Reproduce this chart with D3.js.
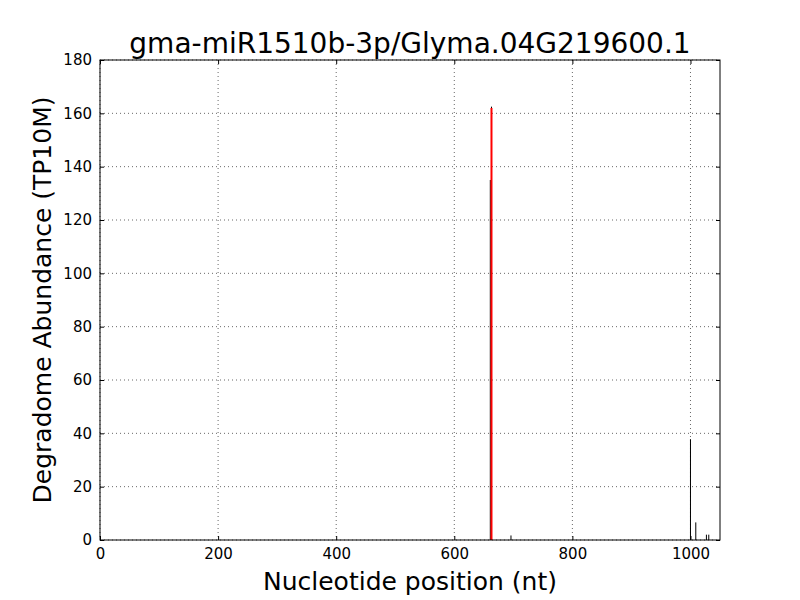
<!DOCTYPE html>
<html>
<head>
<meta charset="utf-8">
<script src="https://cdn.jsdelivr.net/npm/d3@7"></script>
<style>
  body { margin: 0; background: #fff; }
  svg { display: block; font-family: "DejaVu Sans", sans-serif; }
</style>
</head>
<body>
<div id="chart"></div>
<script>
// Degradome peaks
const positions = [661, 663, 696, 1000, 1009, 1027, 1031];
const abundance = [135, 162.5, 1.7, 37.8, 6.6, 2, 2];
// The cleavage site peak, drawn in red
const sitePos = 663;
const siteValue = 162;

const xTicks = [0, 200, 400, 600, 800, 1000];
const yTicks = [0, 20, 40, 60, 80, 100, 120, 140, 160, 180];

const titleText = "gma-miR1510b-3p/Glyma.04G219600.1";
const xLabel = "Nucleotide position (nt)";
const yLabel = "Degradome Abundance (TP10M)";

const margin = { top: 60, right: 80, bottom: 60, left: 100 };
const width = 800 - margin.left - margin.right;
const height = 600 - margin.top - margin.bottom;

const svg = d3.select("#chart")
  .append("svg")
  .attr("width", 800)
  .attr("height", 600);

const g = svg.append("g")
  .attr("transform", `translate(${margin.left},${margin.top})`);

const x = d3.scaleLinear().domain([0, 1050]).range([0, width]);
const y = d3.scaleLinear().domain([0, 180]).range([height, 0]);

// dotted grid
g.append("g")
  .selectAll("line")
  .data(xTicks)
  .join("line")
  .attr("x1", d => x(d)).attr("x2", d => x(d))
  .attr("y1", 0).attr("y2", height)
  .attr("stroke", "#000").attr("stroke-width", 0.6)
  .attr("stroke-dasharray", "1,3");

g.append("g")
  .selectAll("line")
  .data(yTicks)
  .join("line")
  .attr("x1", 0).attr("x2", width)
  .attr("y1", d => y(d)).attr("y2", d => y(d))
  .attr("stroke", "#000").attr("stroke-width", 0.6)
  .attr("stroke-dasharray", "1,3");

// peaks as vertical lines
g.append("g")
  .selectAll("line")
  .data(positions.map((p, i) => ({ p, v: abundance[i] })))
  .join("line")
  .attr("x1", d => x(d.p)).attr("x2", d => x(d.p))
  .attr("y1", y(0)).attr("y2", d => y(d.v))
  .attr("stroke", "#000").attr("stroke-width", 1);

g.append("line")
  .attr("x1", x(sitePos)).attr("x2", x(sitePos))
  .attr("y1", y(0)).attr("y2", y(siteValue))
  .attr("stroke", "#ff0000").attr("stroke-width", 2);

// axes, ticks pointing inward like matplotlib classic
const tickFont = "15px";
const axBottom = g.append("g")
  .attr("transform", `translate(0,${height})`)
  .call(d3.axisBottom(x).tickValues(xTicks).tickFormat(d3.format("d"))
    .tickSizeInner(-4).tickSizeOuter(0).tickPadding(8));
const axTop = g.append("g")
  .call(d3.axisTop(x).tickValues(xTicks).tickSizeInner(-4).tickSizeOuter(0).tickFormat(""));
const axLeft = g.append("g")
  .call(d3.axisLeft(y).tickValues(yTicks).tickFormat(d3.format("d"))
    .tickSizeInner(-4).tickSizeOuter(0).tickPadding(8));
const axRight = g.append("g")
  .attr("transform", `translate(${width},0)`)
  .call(d3.axisRight(y).tickValues(yTicks).tickSizeInner(-4).tickSizeOuter(0).tickFormat(""));

[axBottom, axTop, axLeft, axRight].forEach(a => {
  a.select(".domain").remove();
  a.selectAll("line").attr("stroke", "#000");
  a.selectAll("text").style("font-size", tickFont).attr("fill", "#000")
    .style("font-family", "DejaVu Sans, sans-serif");
});

// frame
g.append("rect")
  .attr("width", width).attr("height", height)
  .attr("fill", "none").attr("stroke", "#000").attr("stroke-width", 1);

// titles
svg.append("text")
  .attr("x", margin.left + width / 2).attr("y", 53)
  .attr("text-anchor", "middle")
  .style("font-size", "28px")
  .text(titleText);

svg.append("text")
  .attr("x", margin.left + width / 2).attr("y", 590)
  .attr("text-anchor", "middle")
  .style("font-size", "25px")
  .text(xLabel);

svg.append("text")
  .attr("transform", `translate(51,${margin.top + height / 2}) rotate(-90)`)
  .attr("text-anchor", "middle")
  .style("font-size", "25px")
  .text(yLabel);
</script>
</body>
</html>
